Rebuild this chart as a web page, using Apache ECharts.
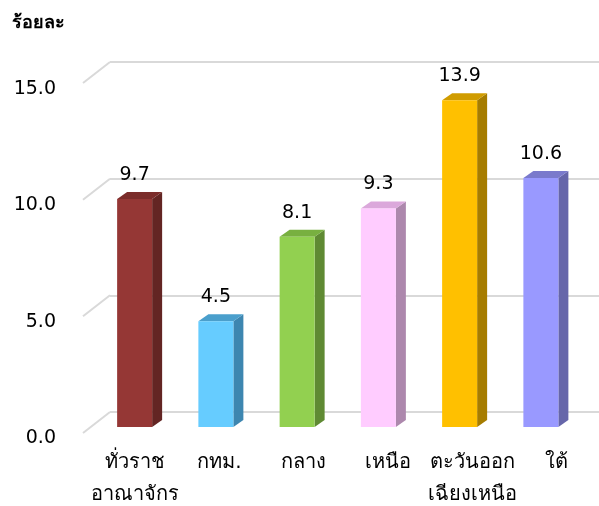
<!DOCTYPE html>
<html>
<head>
<meta charset="utf-8">
<script src="https://cdn.jsdelivr.net/npm/echarts@6/dist/echarts.min.js"></script>
<style>
  html, body { margin: 0; padding: 0; background: #fff; }
  #main { width: 599px; height: 506px; }
</style>
</head>
<body>
<div id="main"></div>
<script>
var categories = ['ทั่วราช\nอาณาจักร', 'กทม.', 'กลาง', 'เหนือ', 'ตะวันออก\nเฉียงเหนือ', 'ใต้'];
var values = [9.7, 4.5, 8.1, 9.3, 13.9, 10.6];
var yTicks = [0, 5, 10, 15];
var frontColors = ['#953735', '#66ccff', '#92d050', '#ffccff', '#ffc000', '#9999ff'];
var topColors = ['#7b2c2a', '#4a9fcc', '#78b040', '#dba8db', '#d09c00', '#7a7acc'];
var sideColors = ['#632523', '#3d86b0', '#5f8a33', '#ad88ad', '#a67c00', '#6666aa'];

var FONT = 'Tahoma, "DejaVu Sans", sans-serif';
var chart = echarts.init(document.getElementById('main'), null, {renderer: 'canvas'});

var option = {
  animation: false,
  title: {
    text: 'ร้อยละ',
    left: 7, top: 9,
    textStyle: {fontFamily: FONT, fontSize: 18, fontWeight: 'bold', color: '#000'}
  },
  grid: [
    {left: 94, top: 74.5, width: 487.5, height: 352.5},   // bars
    {left: 110, top: 62, right: 0, height: 350},         // back wall lines
    {left: 83, top: 89, width: 1, height: 349},          // front tick labels
    {left: 93, top: 432, width: 510, height: 1}          // category labels
  ],
  xAxis: [
    {gridIndex: 0, type: 'category', data: categories, show: false},
    {gridIndex: 1, type: 'value', min: 0, max: 1, show: false},
    {gridIndex: 2, type: 'value', min: 0, max: 1, show: false},
    {gridIndex: 3, type: 'category', data: categories,
      axisLine: {show: false}, axisTick: {show: false},
      axisLabel: {margin: 15, fontFamily: FONT, fontSize: 20, color: '#000', lineHeight: 32, interval: 0}}
  ],
  yAxis: [
    {gridIndex: 0, type: 'value', min: 0, max: 15, show: false},
    {gridIndex: 1, type: 'value', min: 0, max: 15, interval: 5,
      axisLine: {show: false}, axisTick: {show: false}, axisLabel: {show: false},
      splitLine: {lineStyle: {color: '#d9d9d9', width: 2}}},
    {gridIndex: 2, type: 'value', min: 0, max: 15, interval: 5,
      axisLine: {show: false}, axisTick: {show: false}, splitLine: {show: false},
      axisLabel: {margin: 27, fontFamily: FONT, fontSize: 19, color: '#000',
        formatter: function(v){ return v.toFixed(1); }}},
    {gridIndex: 3, type: 'value', show: false}
  ],
  series: [
    {
      // diagonal joins for each gridline
      type: 'custom',
      xAxisIndex: 1, yAxisIndex: 1,
      silent: true,
      data: yTicks.map(function(v){ return [0, v]; }),
      renderItem: function(params, api){
        var p = api.coord([0, api.value(1)]);
        return {
          type: 'line',
          shape: {x1: p[0] - 27, y1: p[1] + 21, x2: p[0], y2: p[1]},
          style: {stroke: '#d9d9d9', lineWidth: 2}
        };
      }
    },
    {
      // 3d style bars
      type: 'custom',
      xAxisIndex: 0, yAxisIndex: 0,
      data: values.map(function(v, i){ return [i, v]; }),
      renderItem: function(params, api){
        var i = api.value(0), v = api.value(1);
        var top = api.coord([i, v]);
        var base = api.coord([i, 0]);
        var w = 35, dx = 10, dy = -7;
        var x0 = top[0] - w / 2, x1 = x0 + w;
        return {
          type: 'group',
          children: [
            {type: 'polygon',
              shape: {points: [[x1, top[1]], [x1 + dx, top[1] + dy], [x1 + dx, base[1] + dy], [x1, base[1]]]},
              style: {fill: sideColors[i]}},
            {type: 'polygon',
              shape: {points: [[x0, top[1]], [x0 + dx, top[1] + dy], [x1 + dx, top[1] + dy], [x1, top[1]]]},
              style: {fill: topColors[i]}},
            {type: 'rect',
              shape: {x: x0, y: top[1], width: w, height: base[1] - top[1]},
              style: {fill: frontColors[i]}},
            {type: 'text',
              style: {text: v.toFixed(1), x: top[0], y: top[1] - 24,
                align: 'center', verticalAlign: 'middle',
                fontFamily: FONT, fontSize: 19, fill: '#000'}}
          ]
        };
      }
    }
  ]
};

chart.setOption(option);
</script>
</body>
</html>
